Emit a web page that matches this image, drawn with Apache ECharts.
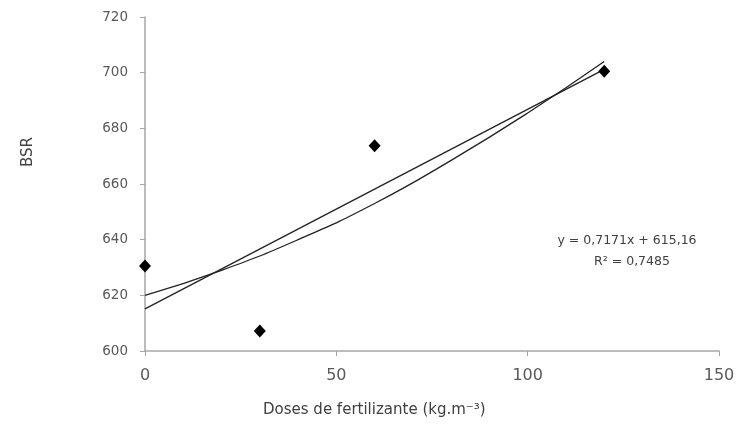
<!DOCTYPE html>
<html>
<head>
<meta charset="utf-8">
<script src="https://cdn.jsdelivr.net/npm/echarts@6/dist/echarts.min.js"></script>
<style>html,body{margin:0;padding:0;background:#fff}#c{width:745px;height:430px}</style>
</head>
<body>
<div id="c"></div>
<script>
// Observed data points
const doses = [0, 30, 60, 120];
const bsr = [630.5, 607.2, 673.7, 700.5];
const linearX = [0, 120];
const linearY = [615.16, 701.2];
// Curved trendline
const curveX = [0, 20, 40, 60, 80, 100, 120];
const curveY = [620, 629, 640, 653, 668.5, 685.5, 704];
// Axis ticks
const xTicks = [0, 50, 100, 150];
const yTicks = [600, 620, 640, 660, 680, 700, 720];
const eqText = 'y = 0,7171x + 615,16';
const r2Text = 'R² = 0,7485';
const xTitle = 'Doses de fertilizante (kg.m⁻³)';
const yTitle = 'BSR';

const font = 'DejaVu Sans';
const chart = echarts.init(document.getElementById('c'), null, {renderer: 'canvas'});
chart.setOption({
  animation: false,
  backgroundColor: '#fff',
  grid: {left: 145, right: 26, top: 17, bottom: 79},
  xAxis: {
    type: 'value', min: xTicks[0], max: xTicks[xTicks.length - 1], interval: 50,
    axisLine: {show: true, lineStyle: {color: '#a6a6a6', width: 1.5}},
    axisTick: {show: true, length: 5, lineStyle: {color: '#a6a6a6'}},
    axisLabel: {color: '#595959', fontFamily: font, fontSize: 16, margin: 17},
    splitLine: {show: false}
  },
  yAxis: {
    type: 'value', min: yTicks[0], max: yTicks[yTicks.length - 1], interval: 20,
    axisLine: {show: true, lineStyle: {color: '#a6a6a6', width: 1.5}},
    axisTick: {show: true, length: 5, lineStyle: {color: '#a6a6a6'}},
    axisLabel: {color: '#595959', fontFamily: font, fontSize: 13.5, margin: 17},
    splitLine: {show: false}
  },
  graphic: [
    {type: 'text', left: 263, top: 403, style: {text: xTitle, fill: '#404040', font: '15px "' + font + '"'}},
    {type: 'text', x: 28, y: 152, rotation: Math.PI / 2, style: {text: yTitle, fill: '#404040', font: '15px "' + font + '"', align: 'center', verticalAlign: 'middle'}},
    {type: 'text', x: 627, y: 241, style: {text: eqText, fill: '#404040', font: '12.5px "' + font + '"', align: 'center', verticalAlign: 'middle'}},
    {type: 'text', x: 632, y: 262, style: {text: r2Text, fill: '#404040', font: '12.5px "' + font + '"', align: 'center', verticalAlign: 'middle'}}
  ],
  series: [
    {
      type: 'line', data: linearX.map((x, i) => [x, linearY[i]]),
      showSymbol: false, symbol: 'none',
      lineStyle: {color: '#222', width: 1.3}, silent: true, z: 2
    },
    {
      type: 'line', data: curveX.map((x, i) => [x, curveY[i]]), smooth: 0.5,
      showSymbol: false, symbol: 'none',
      lineStyle: {color: '#222', width: 1.3}, silent: true, z: 2
    },
    {
      type: 'scatter', data: doses.map((x, i) => [x, bsr[i]]),
      symbol: 'diamond', symbolSize: [12, 13],
      itemStyle: {color: '#000', opacity: 1}, z: 3
    }
  ]
});
</script>
</body>
</html>
